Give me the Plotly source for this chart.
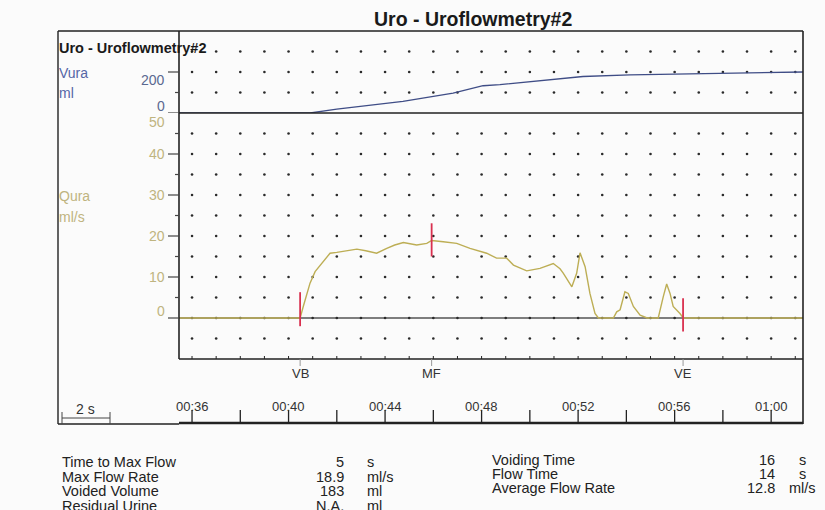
import plotly.graph_objects as go

W, H = 825, 510

# ---------------- data ----------------
flow_t = [35.46, 40.48, 40.61, 40.89, 41.10, 41.38, 41.72, 42.00, 42.40, 42.83, 43.20,
          43.65, 44.07, 44.40, 44.76, 45.31, 45.73, 45.93, 46.41, 46.97, 47.52, 48.21,
          48.62, 49.04, 49.32, 49.87, 50.42, 50.97, 51.25, 51.39, 51.74, 51.94, 52.08,
          52.29, 52.49, 52.70, 52.84, 53.46, 53.60, 53.74, 53.94, 54.08, 54.29, 54.57,
          54.86, 55.32, 55.53, 55.67, 55.81, 55.94, 56.22, 56.36, 61.32]
flow_q = [0, 0, 2.8, 8.5, 11.3, 13.3, 15.8, 16.0, 16.3, 16.8, 16.4,
          15.8, 17.0, 17.8, 18.4, 17.8, 18.2, 18.9, 18.6, 18.2, 17.0, 15.8,
          14.6, 14.6, 12.9, 11.5, 12.1, 13.3, 12.0, 10.9, 7.6, 10.9, 15.9,
          12.5, 6.0, 1.1, 0, 0, 1.5, 2.0, 6.4, 6.0, 2.8, 0.7,
          0, 0, 5.2, 8.3, 6.0, 2.8, 1.1, 0, 0]

vol_t = [35.46, 40.90, 42.00, 43.40, 44.74, 46.82, 48.06, 48.76, 50.42, 52.20,
         54.15, 56.20, 58.50, 60.37, 61.32]
vol_v = [0, 0, 19, 38, 57, 97, 133, 138, 158, 178, 186, 190, 193, 198, 200]

event_names = ["VB", "MF", "VE"]
event_t = [40.48, 45.93, 56.35]
event_low = [-2.0, 15.0, -3.3]
event_high = [6.3, 23.1, 4.8]

time_ticks = [36, 40, 44, 48, 52, 56, 60]
time_labels = ["00:36", "00:40", "00:44", "00:48", "00:52", "00:56", "01:00"]
time_minor = [38, 42, 46, 50, 54, 58]

q_ticks_major = [40, 30, 20, 10, 0]
q_ticks_minor = [45, 35, 25, 15, 5]
q_labels = [50, 40, 30, 20, 10, 0]
v_ticks_major = [200, 0]
v_ticks_minor = [100]

grid_secs = list(range(36, 62))
grid_q = [-5, 5, 10, 15, 20, 25, 30, 35, 40, 45]
grid_v = [100, 200, 300]

left_stats = [("Time to Max Flow", "5", "s"), ("Max Flow Rate", "18.9", "ml/s"),
              ("Voided Volume", "183", "ml"), ("Residual Urine", "N.A.", "ml")]
right_stats = [("Voiding Time", "16", "s"), ("Flow Time", "14", "s"),
               ("Average Flow Rate", "12.8", "ml/s")]

# ---------------- layout helpers ----------------
def px(x):
    return x / W

def py(y):
    return 1 - y / H

X0, X1 = 179, 803        # plot left / right
YT, YS, YB = 31, 113, 359  # top, separator, bottom of plot
T0, T1 = 35.46, 61.32

BLUE = "#3f4d86"
BLUE_TXT = "#5566a6"
OLIVE = "#bdae55"
OLIVE_TXT = "#bfb47f"
RED = "#d9304f"
DARK = "#222222"
FONT = "Liberation Sans, Arial, sans-serif"

fig = go.Figure()

# grid dots
gx, gy = [], []
for s in grid_secs:
    for q in grid_q + [0]:
        gx.append(s); gy.append(q)
fig.add_trace(go.Scatter(x=gx, y=gy, mode="markers", xaxis="x", yaxis="y",
                         marker=dict(size=2.6, color="#2a2a2a"), hoverinfo="skip"))
gx2, gy2 = [], []
for s in grid_secs:
    for v in grid_v:
        gx2.append(s); gy2.append(v)
fig.add_trace(go.Scatter(x=gx2, y=gy2, mode="markers", xaxis="x", yaxis="y2",
                         marker=dict(size=2.6, color="#2a2a2a"), hoverinfo="skip"))

# flow curve
fig.add_trace(go.Scatter(x=flow_t, y=flow_q, mode="lines", xaxis="x", yaxis="y",
                         line=dict(color=OLIVE, width=1.4), hoverinfo="skip"))
# volume curve
fig.add_trace(go.Scatter(x=vol_t, y=vol_v, mode="lines", xaxis="x", yaxis="y2",
                         line=dict(color=BLUE, width=1.3), hoverinfo="skip"))

# event markers
for t, lo, hi in zip(event_t, event_low, event_high):
    fig.add_trace(go.Scatter(x=[t, t], y=[lo, hi], mode="lines", xaxis="x", yaxis="y",
                             line=dict(color=RED, width=1.8), hoverinfo="skip"))

shapes = []
def line(x0, y0, x1, y1, w=1.5, c=DARK, xref="paper", yref="paper", layer="above"):
    shapes.append(dict(type="line", x0=x0, y0=y0, x1=x1, y1=y1, xref=xref, yref=yref,
                       layer=layer, line=dict(color=c, width=w)))

# frames (pixel based)
line(px(58), py(YT), px(X1), py(YT), 1.6)           # top border
line(px(58), py(YT), px(58), py(424), 1.4)           # left outer border
line(px(X1), py(YT), px(X1), py(424), 1.6)           # right border
line(px(X0), py(YT), px(X0), py(YB), 1.6)           # plot left
line(px(X0), py(YB), px(X1), py(YB), 1.6)           # plot bottom
line(px(X0), py(YS), px(X1), py(YS), 1.6)           # separator
line(px(58), py(424), px(X0), py(424), 1.4)          # bottom of left part
line(px(X0), py(423), px(X1), py(423), 2.6)          # time axis base
# zero line of flow panel
line(T0, 0, T1, 0, 1.6, "#555555", xref="x", yref="y", layer="below")

# y ticks
for q in q_ticks_major:
    line(px(168), q, px(X0), q, 1.2, "#444444", yref="y")
for q in q_ticks_minor:
    line(px(175), q, px(X0), q, 1.2, "#444444", yref="y")
for v in v_ticks_major:
    line(px(168), v, px(X0), v, 1.2, "#444444", yref="y2")
for v in v_ticks_minor:
    line(px(175), v, px(X0), v, 1.2, "#444444", yref="y2")

# time axis ticks
for t in time_ticks + time_minor:
    line(t, py(410), t, py(423), 1.3, DARK, xref="x")
# small ticks on plot bottom frame every second
for s in grid_secs:
    line(s, py(YB), s, py(YB - 3), 1.0, DARK, xref="x")
# event ticks under plot
for t in event_t:
    line(t, py(YB), t, py(366), 1.0, "#999999", xref="x")

# 2 s bracket
line(px(62), py(412), px(62), py(424), 1.0, "#444444")
line(px(110), py(412), px(110), py(424), 1.0, "#444444")
line(px(62), py(418), px(110), py(418), 1.0, "#444444")

anns = []
def text(x, y, s, size=14, color=DARK, xa="center", ya="middle", bold=False,
         xref="paper", yref="paper", yshift=0):
    anns.append(dict(x=x, y=y, text=("<b>%s</b>" % s) if bold else s, showarrow=False,
                     xref=xref, yref=yref, xanchor=xa, yanchor=ya, yshift=yshift,
                     font=dict(family=FONT, size=size, color=color)))

text(px(473), py(19), "Uro - Uroflowmetry#2", size=19.5, bold=True, color="#1a1a1a")
text(px(57), py(48), "Uro - Uroflowmetry#2", size=14.5, bold=True, color="#1a1a1a", xa="left")
text(px(57), py(73), "Vura", size=14, color=BLUE_TXT, xa="left")
text(px(57), py(93), "ml", size=14, color=BLUE_TXT, xa="left")
text(px(57), py(196), "Qura", size=14, color=OLIVE_TXT, xa="left")
text(px(57), py(217), "ml/s", size=14, color=OLIVE_TXT, xa="left")

for v in v_ticks_major:
    text(px(167), v, str(v), size=14, color="#5a6890", xa="right", yref="y2",
         yshift=(-8 if v == 200 else 7))
for q in q_labels:
    shift = -9 if q == 50 else (7 if q == 0 else 0)
    text(px(167), q, str(q), size=14, color=OLIVE_TXT, xa="right", yref="y", yshift=shift)

for name, t in zip(event_names, event_t):
    text(t, py(373), name, size=13, color="#333333", xref="x")

for t, lab in zip(time_ticks, time_labels):
    text(t, py(406), lab, size=13, color="#333333", xref="x")
text(px(85), py(409), "2 s", size=14, color="#333333")

for i, (lab, val, unit) in enumerate(left_stats):
    yy = 462 + i * 14.6
    text(px(60), py(yy), lab, size=14.5, color="#222222", xa="left")
    text(px(346), py(yy), val, size=14.5, color="#222222", xa="right")
    text(px(365), py(yy), unit, size=14.5, color="#222222", xa="left")
for i, (lab, val, unit) in enumerate(right_stats):
    yy = 460 + i * 14.2
    text(px(490), py(yy), lab, size=14.5, color="#222222", xa="left")
    text(px(777), py(yy), val, size=14.5, color="#222222", xa="right")
    text(px(802), py(yy), unit, size=14.5, color="#222222", xa="center")

axis_off = dict(showgrid=False, zeroline=False, showticklabels=False, ticks="",
                showline=False, fixedrange=True)
fig.update_layout(
    width=W, height=H, margin=dict(l=0, r=0, t=0, b=0),
    paper_bgcolor="#fbfbfb", plot_bgcolor="rgba(0,0,0,0)",
    showlegend=False,
    xaxis=dict(domain=[px(X0), px(X1)], range=[T0, T1], **axis_off),
    yaxis=dict(domain=[py(YB), py(YS)], range=[-10, 50], **axis_off),
    yaxis2=dict(domain=[py(YS), py(YT)], range=[0, 400], anchor="x", **axis_off),
    shapes=shapes, annotations=anns,
)

fig.write_html(
    "out.html",
    config={"displayModeBar": False},
    post_script="document.body.style.margin='0';document.body.style.padding='0';"
                "document.body.style.overflow='hidden';",
)
